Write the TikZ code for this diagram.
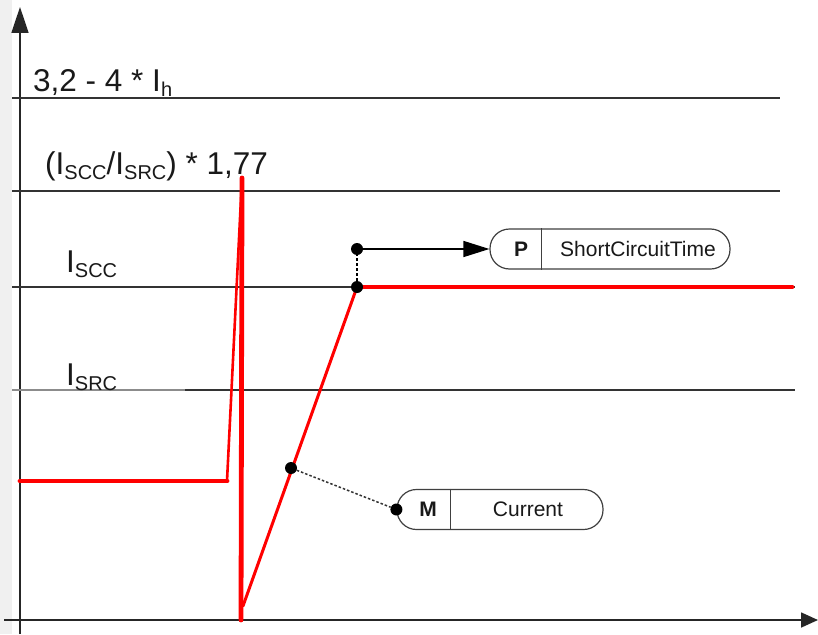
\documentclass[tikz,border=0pt]{standalone}
\usepackage{fontspec}
\setmainfont{Liberation Sans}
\usetikzlibrary{arrows.meta}

% subscript set in a smaller size, dropped below the baseline
\newcommand{\lowsub}[1]{\raisebox{-5pt}{\fontsize{20}{20}\selectfont #1}}

\tikzset{
  axisline/.style={line width=1.6pt, draw=black!85},
  level/.style={line width=1.5pt, draw=black!80},
  curve/.style={draw=red, line cap=round, line join=round},
  biglabel/.style={inner sep=0pt, anchor=base west, font=\fontsize{31.5}{31.5}\selectfont, text=black!90},
  pill/.style={draw=black!75, line width=1.2pt, rounded corners=19.5pt,
    minimum height=40pt, inner sep=0pt, fill=white},
  pilltext/.style={inner sep=0pt, font=\fontsize{21}{21}\selectfont, text=black!90},
  dotmark/.style={circle, fill=black, inner sep=0pt, minimum size=12pt},
  arrowtip/.style={-{Triangle[length=26pt,width=16pt]}},
}

\begin{document}
\begin{tikzpicture}[x=1pt, y=-1pt]
\useasboundingbox (0,0) rectangle (818,634);
\fill[white] (0,0) rectangle (818,634);
\fill[black!6] (0,0) rectangle (12,634);

% axes
\coordinate (yfoot) at (20,634);
\coordinate (ytip) at (20,7);
\coordinate (xfoot) at (4,620);
\coordinate (xtip) at (818,620);
\draw[axisline, -{Triangle[length=26pt,width=17pt]}] (yfoot) -- (ytip);
\draw[axisline, -{Triangle[length=17pt,width=15pt]}] (xfoot) -- (xtip);

% threshold levels
\coordinate (l1a) at (12,98);   \coordinate (l1b) at (780,98);
\coordinate (l2a) at (12,191);  \coordinate (l2b) at (780,191);
\coordinate (l3a) at (12,287);  \coordinate (l3b) at (795,287);
\coordinate (l4a) at (12,390);  \coordinate (l4m) at (185,390); \coordinate (l4b) at (795,390);
\draw[level] (l1a) -- (l1b);
\draw[level] (l2a) -- (l2b);
\draw[level] (l3a) -- (l3b);
\draw[level, draw=black!45] (l4a) -- (l4m);
\draw[level] (l4m) -- (l4b);

% level labels
\node[biglabel] (lab1) at (33,91) {3,2 - 4 * I\lowsub{h}};
\node[biglabel] (lab2) at (45,174) {(I\lowsub{SCC}/I\lowsub{SRC}) * 1,77};
\node[biglabel] (lab3) at (66,272) {I\lowsub{SCC}};
\node[biglabel] (lab4) at (66,385) {I\lowsub{SRC}};

% current curve
\coordinate (c0) at (20,481);
\coordinate (c1) at (227,481);
\coordinate (c2) at (242,178);
\coordinate (c3) at (241,620);
\coordinate (c4) at (243,606);
\coordinate (c5) at (357,287);
\coordinate (c6) at (792,287);
\draw[curve, line width=4.8pt] (c0) -- (c1);
\draw[curve, line width=2.6pt] (c1) -- (c2);
\draw[curve, line width=4.8pt] (c2) -- (c3);
\draw[curve, line width=3pt] (c4) -- (c5);
\draw[curve, line width=4.8pt] (c5) -- (c6);

% parameter output: short circuit time
\node[pill, minimum width=240pt] (ppill) at (610,249) {};
\draw[black!75, line width=1.2pt] ([xshift=52pt]ppill.north west) -- ([xshift=52pt]ppill.south west);
\node[pilltext, font=\fontsize{21}{21}\selectfont\bfseries] (ptag) at (521,249) {P};
\node[pilltext] (pname) at (638,249) {ShortCircuitTime};

\node[dotmark] (knee) at (c5) {};
\node[dotmark] (pstart) at (357,249) {};
\draw[black, line width=1.5pt, dash pattern=on 3pt off 2pt] (knee) -- (pstart);
\draw[black, line width=1.5pt, arrowtip] (pstart) -- (ppill.west);

% measured value: current
\node[pill, minimum width=206pt] (mpill) at (500,509.5) {};
\draw[black!75, line width=1.2pt] ([xshift=54pt]mpill.north west) -- ([xshift=54pt]mpill.south west);
\node[pilltext, font=\fontsize{21}{21}\selectfont\bfseries] (mtag) at (428,509.5) {M};
\node[pilltext] (mname) at (528,509.5) {Current};

\node[dotmark] (probe) at (291,468) {};
\node[dotmark] (mend) at (mpill.west) {};
\draw[black!80, line width=1.5pt, dash pattern=on 2.5pt off 2pt] (probe) -- (mend);
\end{tikzpicture}
\end{document}
